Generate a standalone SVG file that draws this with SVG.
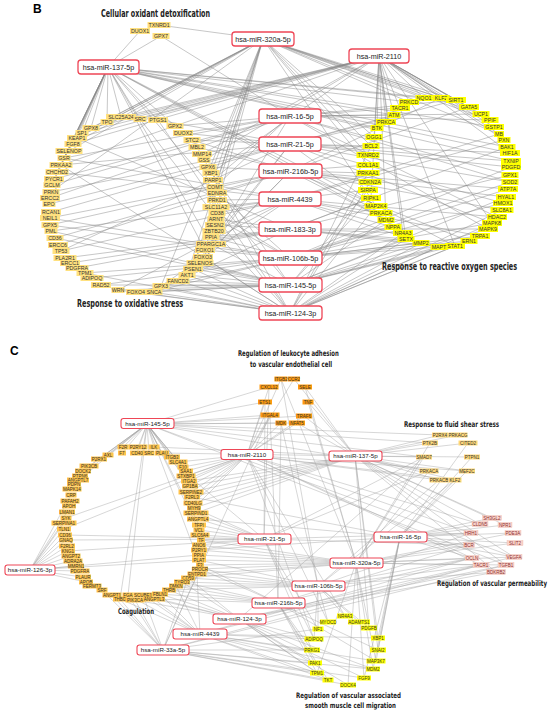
<svg xmlns="http://www.w3.org/2000/svg" width="550" height="714" viewBox="0 0 550 714">
<style>
.e1{stroke:#858585;stroke-width:0.55;fill:none;opacity:0.85}
.e2{stroke:#a0a0a0;stroke-width:0.5;fill:none;opacity:0.85}
.mb rect{fill:#fff;stroke:#EE4656;stroke-width:1.3}
.mb text{font-family:"Liberation Sans",Arial,sans-serif;font-size:7.2px;text-anchor:middle;fill:#222}
.mc rect{fill:#fff;stroke:#EE4656;stroke-width:1.1}
.mc text{font-family:"Liberation Sans",Arial,sans-serif;font-size:6.2px;text-anchor:middle;fill:#222}
.gb text{font-family:"Liberation Sans",Arial,sans-serif;font-size:5.3px;text-anchor:middle;fill:#333}
.gc text{font-family:"Liberation Sans",Arial,sans-serif;font-size:4.5px;text-anchor:middle;fill:#333}
.bl rect{fill:#FFE17F}
.by rect{fill:#FFFF00}
.co rect{fill:#FFC54D}
.lk rect{fill:#FF9B0F}
.sh rect{fill:#FFD97A}
.pm rect{fill:#FAD3CB;stroke:#E8A898;stroke-width:0.3}
.pm text{fill:#8B3030}
.sm rect{fill:#FFFF00}
.t{font-family:"DejaVu Sans Condensed","DejaVu Sans",sans-serif;font-weight:bold;fill:#222}
.p{font-family:"Liberation Sans",Arial,sans-serif;font-weight:bold;font-size:12px;fill:#000}
</style>
<rect width="550" height="714" fill="#fff"/>
<g id="connectors">
<path class="e1" id="eb-137" d="M108 67L107 122M108 67L91 128M108 67L82 133M108 67L77 138M108 67L73 144M108 67L69 151M108 67L64 158M108 67L61 165M108 67L57 172M108 67L54 179M108 67L52 185M108 67L140 119M108 67L158 120M108 67L175 126M108 67L121 117M108 67L140 31M108 67L161 36M108 67L217 193M108 67L205 250M108 67L211 244M108 67L424 98M108 67L409 102M108 67L377 128M108 67L510 153M108 67L507 147M108 67L456 100M108 67L394 115M108 67L386 220M108 67L381 213M108 67L455 246M108 67L494 127M108 67L511 161"/>
<path class="e1" id="eb-320" d="M263 39L159 25M263 39L91 128M263 39L82 133M263 39L77 138M263 39L73 144M263 39L69 151M263 39L107 122M263 39L213 180M263 39L215 187M263 39L211 173M263 39L409 102M263 39L424 98M263 39L441 98M263 39L469 107M263 39L481 114M263 39L490 120M263 39L371 146M263 39L374 137M263 39L368 155M263 39L368 165M263 39L376 206M263 39L203 257M263 39L187 275M263 39L193 269M263 39L161 286M263 39L456 100M263 39L499 134M263 39L51 192"/>
<path class="e1" id="eb-2110" d="M379 56L121 117M379 56L140 119M379 56L107 122M379 56L91 128M379 56L82 133M379 56L77 138M379 56L61 165M379 56L202 154M379 56L211 173M379 56L424 98M379 56L441 98M379 56L456 100M379 56L469 107M379 56L481 114M379 56L490 120M379 56L494 127M379 56L510 153M379 56L499 134M379 56L504 140M379 56L394 115M379 56L386 122M379 56L377 128M379 56L374 137M379 56L406 239M379 56L403 233M379 56L386 220M379 56L371 198M379 56L455 246M379 56L492 223M379 56L204 160M379 56L73 144"/>
<path class="e1" id="eb-16" d="M161 36L290 116M290 116L64 158M290 116L54 179M290 116L52 185M290 116L215 187M290 116L213 180M290 116L50 198M290 116L200 263M290 116L394 115M290 116L400 108M290 116L481 114M290 116L490 120M290 116L510 182M290 116L510 175M290 116L497 217M290 116L456 100M290 116L488 229M290 116L183 133M290 116L175 126"/>
<path class="e1" id="eb-21" d="M290 144L51 192M290 144L49 204M290 144L51 212M290 144L61 165M290 144L158 120M290 144L183 133M290 144L203 257M290 144L205 250M290 144L61 251M290 144L371 146M290 144L386 122M290 144L394 115M290 144L456 100M290 144L510 153M290 144L510 182M290 144L503 203M290 144L492 223M290 144L511 161M290 144L511 167M290 144L376 206M290 144L192 140"/>
<path class="e1" id="eb-216" d="M290 171L50 218M290 171L50 225M290 171L55 238M290 171L58 245M290 171L193 269M290 171L187 275M290 171L192 140M290 171L197 147M290 171L368 165M290 171L370 182M290 171L386 220M290 171L469 241M290 171L502 210M290 171L506 197M290 171L508 189M290 171L469 107M290 171L441 98M290 171L368 173M290 171L208 167"/>
<path class="e1" id="eb-4439" d="M290 199L51 231M290 199L61 251M290 199L161 286M290 199L118 290M290 199L214 231M290 199L57 172M290 199L64 158M290 199L368 190M290 199L381 213M290 199L393 227M290 199L421 243M290 199L480 236M290 199L497 217M290 199L499 134M290 199L504 140M290 199L216 207M290 199L217 213M290 199L217 200"/>
<path class="e1" id="eb-183" d="M290 229L70 263M290 229L65 258M290 229L178 281M290 229L77 268M290 229L215 225M290 229L77 138M290 229L403 233M290 229L406 239M290 229L439 247M290 229L455 246M290 229L488 229M290 229L510 175M290 229L507 147M290 229L216 219M290 229L211 237M290 229L371 198"/>
<path class="e1" id="eb-106" d="M290 258L85 273M290 258L92 278M290 258L101 285M290 258L152 292M290 258L136 292M290 258L211 237M290 258L216 219M290 258L217 213M290 258L50 218M290 258L50 225M290 258L421 243M290 258L439 247M290 258L469 241M290 258L480 236M290 258L492 223M290 258L503 203M290 258L508 189M290 258L510 182M290 258L511 167M290 258L393 227M290 258L205 250M290 258L217 193"/>
<path class="e1" id="eb-145" d="M290 285L136 292M290 285L152 292M290 285L161 286M290 285L118 290M290 285L101 285M290 285L178 281M290 285L187 275M290 285L193 269M290 285L200 263M290 285L51 231M290 285L55 238M290 285L439 247M290 285L455 246M290 285L469 241M290 285L421 243M290 285L406 239M290 285L386 220M290 285L371 198M290 285L368 190M290 285L506 197M290 285L488 229M290 285L211 244M290 285L217 200M290 285L208 167"/>
<path class="e1" id="eb-124" d="M290 313L152 292M290 313L136 292M290 313L161 286M290 313L178 281M290 313L187 275M290 313L193 269M290 313L118 290M290 313L85 273M290 313L439 247M290 313L455 246M290 313L421 243M290 313L406 239M290 313L403 233M290 313L480 236M290 313L492 223M290 313L376 206M290 313L370 182M290 313L368 173M290 313L371 146M290 313L140 119M290 313L158 120M290 313L197 147M290 313L203 257M290 313L502 210M290 313L214 231M290 313L61 165"/>
<path class="e2" id="ec-145" d="M147 424L123 447M147 424L138 447M147 424L154 447M147 424L108 455M147 424L122 453M147 424L137 453M147 424L149 453M147 424L162 453M147 424L172 457M147 424L99 459M147 424L89 466M147 424L83 471M147 424L80 476M147 424L178 462M147 424L183 467M147 424L186 471M147 424L199 525M147 424L199 530M147 424L200 565M147 424L120 599M147 424L128 595M147 424L74 484M147 424L269 387M147 424L265 402M147 424L270 415M147 424L281 423M147 424L440 435M147 424L430 443M147 424L424 457M147 424L429 471M147 424L514 557M147 424L506 565M147 424L297 423M147 424L304 416M147 424L189 481M147 424L190 486"/>
<path class="e2" id="ec-2110" d="M247 455L178 462M247 455L183 467M247 455L186 471M247 455L186 476M247 455L189 481M247 455L190 486M247 455L191 492M247 455L192 497M247 455L193 503M247 455L194 508M247 455L64 529M247 455L66 518M247 455L281 423M247 455L297 423M247 455L270 415M247 455L304 416M247 455L281 379M247 455L294 379M247 455L439 480M247 455L455 480M247 455L467 471M247 455L472 558M247 455L481 565M247 455L480 524M247 455L471 533M247 455L328 622M247 455L345 616M247 455L314 639M247 455L265 402M247 455L269 387"/>
<path class="e2" id="ec-137" d="M355 456L440 435M355 456L430 443M355 456L424 457M355 456L429 471M355 456L439 480M355 456L455 480M355 456L467 471M355 456L472 457M355 456L468 443M355 456L458 435M355 456L492 518M355 456L505 525M355 456L480 524M355 456L514 557M355 456L506 565M355 456L496 572M355 456L305 387M355 456L308 402M355 456L304 416M355 456L297 423M355 456L294 379M355 456L191 492M355 456L190 486M355 456L189 481M355 456L193 503M355 456L192 497M355 456L194 508M355 456L196 513M355 456L378 638M355 456L378 650M355 456L369 628M355 456L162 453M355 456L154 447"/>
<path class="e2" id="ec-21" d="M264 539L198 519M264 539L199 525M264 539L199 530M264 539L200 535M264 539L201 540M264 539L199 545M264 539L199 550M264 539L194 508M264 539L196 513M264 539L65 535M264 539L66 540M264 539L429 471M264 539L424 457M264 539L471 533M264 539L469 545M264 539L269 387M264 539L265 402M264 539L318 629M264 539L314 639M264 539L312 650M264 539L68 551M264 539L154 447"/>
<path class="e2" id="ec-16" d="M400 537L492 518M400 537L480 524M400 537L505 525M400 537L471 533M400 537L513 533M400 537L515 543M400 537L469 545M400 537L472 558M400 537L514 557M400 537L467 471M400 537L472 457M400 537L455 480M400 537L468 443M400 537L192 497M400 537L199 550M400 537L376 661M400 537L373 669M400 537L378 638M400 537L378 650M400 537L364 678M400 537L198 519"/>
<path class="e2" id="ec-126" d="M30 570L64 523M30 570L64 529M30 570L65 535M30 570L66 540M30 570L67 546M30 570L68 551M30 570L71 556M30 570L73 561M30 570L76 566M30 570L80 571M30 570L83 577M30 570L86 582M30 570L66 518M30 570L67 512M30 570L199 555M30 570L199 560M30 570L71 495"/>
<path class="e2" id="ec-320" d="M356 563L199 560M356 563L200 565M356 563L200 569M356 563L197 574M356 563L188 578M356 563L199 550M356 563L199 555M356 563L199 545M356 563L201 540M356 563L469 545M356 563L472 558M356 563L481 565M356 563L506 565M356 563L514 557M356 563L513 533M356 563L515 543M356 563L429 471M356 563L430 443M356 563L424 457M356 563L376 661M356 563L373 669M356 563L348 685M356 563L364 678M356 563L317 673M356 563L281 379M356 563L308 402M356 563L305 387"/>
<path class="e2" id="ec-106" d="M318 586L199 560M318 586L182 582M318 586L176 586M318 586L169 590M318 586L188 578M318 586L197 574M318 586L200 569M318 586L472 558M318 586L481 565M318 586L496 572M318 586L471 533M318 586L359 622M318 586L369 628M318 586L345 616M318 586L328 622M318 586L314 639M318 586L318 629M318 586L455 480M318 586L439 480M318 586L281 379M318 586L281 423"/>
<path class="e2" id="ec-216" d="M278 603L182 582M278 603L169 590M278 603L176 586M278 603L160 594M278 603L154 599M278 603L200 569M278 603L200 565M278 603L312 650M278 603L315 663M278 603L317 673M278 603L328 680M278 603L378 650M278 603L376 661M278 603L469 545M278 603L472 558M278 603L281 423M278 603L270 415"/>
<path class="e2" id="ec-124" d="M239 619L160 594M239 619L154 599M239 619L143 595M239 619L135 600M239 619L169 590M239 619L182 582M239 619L188 578M239 619L315 663M239 619L317 673M239 619L328 680M239 619L348 685M239 619L373 669M239 619L364 678M239 619L314 639M239 619L514 557M239 619L506 565M239 619L424 457M239 619L496 572"/>
<path class="e2" id="ec-4439" d="M200 634L143 595M200 634L160 594M200 634L120 599M200 634L128 595M200 634L154 599M200 634L176 586M200 634L197 574M200 634L314 639M200 634L312 650M200 634L315 663M200 634L328 680M200 634L317 673M200 634L376 661M200 634L373 669M200 634L378 638M200 634L472 558M200 634L481 565"/>
<path class="e2" id="ec-33" d="M163 650L128 595M163 650L120 599M163 650L135 600M163 650L143 595M163 650L112 595M163 650L102 590M163 650L188 578M163 650L200 569M163 650L315 663M163 650L317 673M163 650L328 680M163 650L348 685M163 650L364 678M163 650L373 669M163 650L312 650M163 650L318 629M163 650L481 565M163 650L506 565M163 650L270 415"/>
</g>
<g id="panel-b-genes">
<g id="b-SLC25A24" class="gb bl"><rect x="106" y="114" width="30" height="6"/><text x="121" y="118.9">SLC25A24</text></g>
<g id="b-SRC" class="gb bl"><rect x="133.5" y="116" width="13" height="6"/><text x="140" y="120.9">SRC</text></g>
<g id="b-PTGS1" class="gb bl"><rect x="148" y="117" width="20" height="6"/><text x="158" y="121.9">PTGS1</text></g>
<g id="b-GPX2" class="gb bl"><rect x="166.5" y="123" width="17" height="6"/><text x="175" y="127.9">GPX2</text></g>
<g id="b-DUOX2" class="gb bl"><rect x="173" y="130" width="20" height="6"/><text x="183" y="134.9">DUOX2</text></g>
<g id="b-STC2" class="gb bl"><rect x="183.5" y="137" width="17" height="6"/><text x="192" y="141.9">STC2</text></g>
<g id="b-MBL2" class="gb bl"><rect x="188.5" y="144" width="17" height="6"/><text x="197" y="148.9">MBL2</text></g>
<g id="b-MMP14" class="gb bl"><rect x="192" y="151" width="20" height="6"/><text x="202" y="155.9">MMP14</text></g>
<g id="b-GSS" class="gb bl"><rect x="197.5" y="157" width="13" height="6"/><text x="204" y="161.9">GSS</text></g>
<g id="b-GPX6" class="gb bl"><rect x="199.5" y="164" width="17" height="6"/><text x="208" y="168.9">GPX6</text></g>
<g id="b-XBP1" class="gb bl"><rect x="202.5" y="170" width="17" height="6"/><text x="211" y="174.9">XBP1</text></g>
<g id="b-PARP1" class="gb bl"><rect x="203" y="177" width="20" height="6"/><text x="213" y="181.9">PARP1</text></g>
<g id="b-COMT" class="gb bl"><rect x="206.5" y="184" width="17" height="6"/><text x="215" y="188.9">COMT</text></g>
<g id="b-EDNRA" class="gb bl"><rect x="207" y="190" width="20" height="6"/><text x="217" y="194.9">EDNRA</text></g>
<g id="b-PRKD1" class="gb bl"><rect x="207" y="197" width="20" height="6"/><text x="217" y="201.9">PRKD1</text></g>
<g id="b-SLC11A2" class="gb bl"><rect x="202.5" y="204" width="27" height="6"/><text x="216" y="208.9">SLC11A2</text></g>
<g id="b-CD38" class="gb bl"><rect x="208.5" y="210" width="17" height="6"/><text x="217" y="214.9">CD38</text></g>
<g id="b-ARNT" class="gb bl"><rect x="207.5" y="216" width="17" height="6"/><text x="216" y="220.9">ARNT</text></g>
<g id="b-SESN2" class="gb bl"><rect x="205" y="222" width="20" height="6"/><text x="215" y="226.9">SESN2</text></g>
<g id="b-ZBTB20" class="gb bl"><rect x="202.5" y="228" width="23" height="6"/><text x="214" y="232.9">ZBTB20</text></g>
<g id="b-PPIA" class="gb bl"><rect x="202.5" y="234" width="17" height="6"/><text x="211" y="238.9">PPIA</text></g>
<g id="b-PPARGC1A" class="gb bl"><rect x="196" y="241" width="30" height="6"/><text x="211" y="245.9">PPARGC1A</text></g>
<g id="b-FOXO1" class="gb bl"><rect x="195" y="247" width="20" height="6"/><text x="205" y="251.9">FOXO1</text></g>
<g id="b-FOXO3" class="gb bl"><rect x="193" y="254" width="20" height="6"/><text x="203" y="258.9">FOXO3</text></g>
<g id="b-SELENOS" class="gb bl"><rect x="186.5" y="260" width="27" height="6"/><text x="200" y="264.9">SELENOS</text></g>
<g id="b-PSEN1" class="gb bl"><rect x="183" y="266" width="20" height="6"/><text x="193" y="270.9">PSEN1</text></g>
<g id="b-AKT1" class="gb bl"><rect x="178.5" y="272" width="17" height="6"/><text x="187" y="276.9">AKT1</text></g>
<g id="b-FANCD2" class="gb bl"><rect x="166.5" y="278" width="23" height="6"/><text x="178" y="282.9">FANCD2</text></g>
<g id="b-GPX3" class="gb bl"><rect x="152.5" y="283" width="17" height="6"/><text x="161" y="287.9">GPX3</text></g>
<g id="b-SNCA" class="gb bl"><rect x="145.5" y="289" width="17" height="6"/><text x="154" y="293.9">SNCA</text></g>
<g id="b-FOXO4" class="gb bl"><rect x="126" y="289" width="20" height="6"/><text x="136" y="293.9">FOXO4</text></g>
<g id="b-WRN" class="gb bl"><rect x="111.5" y="287" width="13" height="6"/><text x="118" y="291.9">WRN</text></g>
<g id="b-RAD52" class="gb bl"><rect x="91" y="282" width="20" height="6"/><text x="101" y="286.9">RAD52</text></g>
<g id="b-ADIPOQ" class="gb bl"><rect x="80.5" y="275" width="23" height="6"/><text x="92" y="279.9">ADIPOQ</text></g>
<g id="b-TPM1" class="gb bl"><rect x="76.5" y="270" width="17" height="6"/><text x="85" y="274.9">TPM1</text></g>
<g id="b-PDGFRA" class="gb bl"><rect x="65.5" y="265" width="23" height="6"/><text x="77" y="269.9">PDGFRA</text></g>
<g id="b-ERCC1" class="gb bl"><rect x="60" y="260" width="20" height="6"/><text x="70" y="264.9">ERCC1</text></g>
<g id="b-PLA2R1" class="gb bl"><rect x="53.5" y="255" width="23" height="6"/><text x="65" y="259.9">PLA2R1</text></g>
<g id="b-TP53" class="gb bl"><rect x="52.5" y="248" width="17" height="6"/><text x="61" y="252.9">TP53</text></g>
<g id="b-ERCC6" class="gb bl"><rect x="48" y="242" width="20" height="6"/><text x="58" y="246.9">ERCC6</text></g>
<g id="b-CD36" class="gb bl"><rect x="46.5" y="235" width="17" height="6"/><text x="55" y="239.9">CD36</text></g>
<g id="b-PML" class="gb bl"><rect x="44.5" y="228" width="13" height="6"/><text x="51" y="232.9">PML</text></g>
<g id="b-GPX5" class="gb bl"><rect x="41.5" y="222" width="17" height="6"/><text x="50" y="226.9">GPX5</text></g>
<g id="b-NEIL1" class="gb bl"><rect x="40" y="215" width="20" height="6"/><text x="50" y="219.9">NEIL1</text></g>
<g id="b-RCAN1" class="gb bl"><rect x="41" y="209" width="20" height="6"/><text x="51" y="213.9">RCAN1</text></g>
<g id="b-EPO" class="gb bl"><rect x="42.5" y="201" width="13" height="6"/><text x="49" y="205.9">EPO</text></g>
<g id="b-ERCC2" class="gb bl"><rect x="40" y="195" width="20" height="6"/><text x="50" y="199.9">ERCC2</text></g>
<g id="b-PRKN" class="gb bl"><rect x="42.5" y="189" width="17" height="6"/><text x="51" y="193.9">PRKN</text></g>
<g id="b-GCLM" class="gb bl"><rect x="43.5" y="182" width="17" height="6"/><text x="52" y="186.9">GCLM</text></g>
<g id="b-PYCR1" class="gb bl"><rect x="44" y="176" width="20" height="6"/><text x="54" y="180.9">PYCR1</text></g>
<g id="b-CHCHD2" class="gb bl"><rect x="45.5" y="169" width="23" height="6"/><text x="57" y="173.9">CHCHD2</text></g>
<g id="b-PRKAA2" class="gb bl"><rect x="49.5" y="162" width="23" height="6"/><text x="61" y="166.9">PRKAA2</text></g>
<g id="b-GSR" class="gb bl"><rect x="57.5" y="155" width="13" height="6"/><text x="64" y="159.9">GSR</text></g>
<g id="b-SELENOP" class="gb bl"><rect x="55.5" y="148" width="27" height="6"/><text x="69" y="152.9">SELENOP</text></g>
<g id="b-FGF8" class="gb bl"><rect x="64.5" y="141" width="17" height="6"/><text x="73" y="145.9">FGF8</text></g>
<g id="b-KEAP1" class="gb bl"><rect x="67" y="135" width="20" height="6"/><text x="77" y="139.9">KEAP1</text></g>
<g id="b-SP1" class="gb bl"><rect x="75.5" y="130" width="13" height="6"/><text x="82" y="134.9">SP1</text></g>
<g id="b-GPX8" class="gb bl"><rect x="82.5" y="125" width="17" height="6"/><text x="91" y="129.9">GPX8</text></g>
<g id="b-TPO" class="gb bl"><rect x="100.5" y="119" width="13" height="6"/><text x="107" y="123.9">TPO</text></g>
<g id="b-TXNRD1" class="gb bl"><rect x="147.5" y="22" width="23" height="6"/><text x="159" y="26.9">TXNRD1</text></g>
<g id="b-DUOX1" class="gb bl"><rect x="130" y="28" width="20" height="6"/><text x="140" y="32.9">DUOX1</text></g>
<g id="b-GPX7" class="gb bl"><rect x="152.5" y="33" width="17" height="6"/><text x="161" y="37.9">GPX7</text></g>
<g id="b-NQO1" class="gb by"><rect x="415.5" y="95" width="17" height="6"/><text x="424" y="99.9">NQO1</text></g>
<g id="b-KLF2" class="gb by"><rect x="432.5" y="95" width="17" height="6"/><text x="441" y="99.9">KLF2</text></g>
<g id="b-SIRT1" class="gb by"><rect x="446" y="97" width="20" height="6"/><text x="456" y="101.9">SIRT1</text></g>
<g id="b-GATA5" class="gb by"><rect x="459" y="104" width="20" height="6"/><text x="469" y="108.9">GATA5</text></g>
<g id="b-UCP1" class="gb by"><rect x="472.5" y="111" width="17" height="6"/><text x="481" y="115.9">UCP1</text></g>
<g id="b-PPIF" class="gb by"><rect x="481.5" y="117" width="17" height="6"/><text x="490" y="121.9">PPIF</text></g>
<g id="b-GSTP1" class="gb by"><rect x="484" y="124" width="20" height="6"/><text x="494" y="128.9">GSTP1</text></g>
<g id="b-MB" class="gb by"><rect x="494" y="131" width="10" height="6"/><text x="499" y="135.9">MB</text></g>
<g id="b-PXN" class="gb by"><rect x="497.5" y="137" width="13" height="6"/><text x="504" y="141.9">PXN</text></g>
<g id="b-BAK1" class="gb by"><rect x="498.5" y="144" width="17" height="6"/><text x="507" y="148.9">BAK1</text></g>
<g id="b-HIF1A" class="gb by"><rect x="500" y="150" width="20" height="6"/><text x="510" y="154.9">HIF1A</text></g>
<g id="b-TXNIP" class="gb by"><rect x="501" y="158" width="20" height="6"/><text x="511" y="162.9">TXNIP</text></g>
<g id="b-PDGFD" class="gb by"><rect x="501" y="164" width="20" height="6"/><text x="511" y="168.9">PDGFD</text></g>
<g id="b-GPX1" class="gb by"><rect x="501.5" y="172" width="17" height="6"/><text x="510" y="176.9">GPX1</text></g>
<g id="b-SOD2" class="gb by"><rect x="501.5" y="179" width="17" height="6"/><text x="510" y="183.9">SOD2</text></g>
<g id="b-ATP7A" class="gb by"><rect x="498" y="186" width="20" height="6"/><text x="508" y="190.9">ATP7A</text></g>
<g id="b-HYAL1" class="gb by"><rect x="496" y="194" width="20" height="6"/><text x="506" y="198.9">HYAL1</text></g>
<g id="b-HMOX1" class="gb by"><rect x="493" y="200" width="20" height="6"/><text x="503" y="204.9">HMOX1</text></g>
<g id="b-SLC8A1" class="gb by"><rect x="490.5" y="207" width="23" height="6"/><text x="502" y="211.9">SLC8A1</text></g>
<g id="b-HDAC2" class="gb by"><rect x="487" y="214" width="20" height="6"/><text x="497" y="218.9">HDAC2</text></g>
<g id="b-MAPK8" class="gb by"><rect x="482" y="220" width="20" height="6"/><text x="492" y="224.9">MAPK8</text></g>
<g id="b-MAPK9" class="gb by"><rect x="478" y="226" width="20" height="6"/><text x="488" y="230.9">MAPK9</text></g>
<g id="b-TRPA1" class="gb by"><rect x="470" y="233" width="20" height="6"/><text x="480" y="237.9">TRPA1</text></g>
<g id="b-ERN1" class="gb by"><rect x="460.5" y="238" width="17" height="6"/><text x="469" y="242.9">ERN1</text></g>
<g id="b-STAT1" class="gb by"><rect x="445" y="243" width="20" height="6"/><text x="455" y="247.9">STAT1</text></g>
<g id="b-MAPT" class="gb by"><rect x="430.5" y="244" width="17" height="6"/><text x="439" y="248.9">MAPT</text></g>
<g id="b-MMP2" class="gb by"><rect x="412.5" y="240" width="17" height="6"/><text x="421" y="244.9">MMP2</text></g>
<g id="b-SETX" class="gb by"><rect x="397.5" y="236" width="17" height="6"/><text x="406" y="240.9">SETX</text></g>
<g id="b-NR4A3" class="gb by"><rect x="393" y="230" width="20" height="6"/><text x="403" y="234.9">NR4A3</text></g>
<g id="b-NPPA" class="gb by"><rect x="384.5" y="224" width="17" height="6"/><text x="393" y="228.9">NPPA</text></g>
<g id="b-MDM2" class="gb by"><rect x="377.5" y="217" width="17" height="6"/><text x="386" y="221.9">MDM2</text></g>
<g id="b-PRKACA" class="gb by"><rect x="369.5" y="210" width="23" height="6"/><text x="381" y="214.9">PRKACA</text></g>
<g id="b-MAP2K4" class="gb by"><rect x="364.5" y="203" width="23" height="6"/><text x="376" y="207.9">MAP2K4</text></g>
<g id="b-RIPK1" class="gb by"><rect x="361" y="195" width="20" height="6"/><text x="371" y="199.9">RIPK1</text></g>
<g id="b-SIRPA" class="gb by"><rect x="358" y="187" width="20" height="6"/><text x="368" y="191.9">SIRPA</text></g>
<g id="b-CDKN2A" class="gb by"><rect x="358.5" y="179" width="23" height="6"/><text x="370" y="183.9">CDKN2A</text></g>
<g id="b-PRKAA1" class="gb by"><rect x="356.5" y="170" width="23" height="6"/><text x="368" y="174.9">PRKAA1</text></g>
<g id="b-COL1A1" class="gb by"><rect x="356.5" y="162" width="23" height="6"/><text x="368" y="166.9">COL1A1</text></g>
<g id="b-TXNRD2" class="gb by"><rect x="356.5" y="152" width="23" height="6"/><text x="368" y="156.9">TXNRD2</text></g>
<g id="b-BCL2" class="gb by"><rect x="362.5" y="143" width="17" height="6"/><text x="371" y="147.9">BCL2</text></g>
<g id="b-OGG1" class="gb by"><rect x="365.5" y="134" width="17" height="6"/><text x="374" y="138.9">OGG1</text></g>
<g id="b-BTK" class="gb by"><rect x="370.5" y="125" width="13" height="6"/><text x="377" y="129.9">BTK</text></g>
<g id="b-PRKCA" class="gb by"><rect x="376" y="119" width="20" height="6"/><text x="386" y="123.9">PRKCA</text></g>
<g id="b-ATM" class="gb by"><rect x="387.5" y="112" width="13" height="6"/><text x="394" y="116.9">ATM</text></g>
<g id="b-TACR1" class="gb by"><rect x="390" y="105" width="20" height="6"/><text x="400" y="109.9">TACR1</text></g>
<g id="b-PRKCD" class="gb by"><rect x="399" y="99" width="20" height="6"/><text x="409" y="103.9">PRKCD</text></g>
</g>
<g id="panel-b-mirnas">
<g id="b-miR-320a-5p" class="mb"><rect x="232" y="32" width="62" height="14" rx="3"/><text x="263" y="41.6">hsa-miR-320a-5p</text></g>
<g id="b-miR-2110" class="mb"><rect x="349" y="49" width="60" height="14" rx="3"/><text x="379" y="58.6">hsa-miR-2110</text></g>
<g id="b-miR-137-5p" class="mb"><rect x="78" y="60" width="61" height="14" rx="3"/><text x="108.5" y="69.6">hsa-miR-137-5p</text></g>
<g id="b-miR-16-5p" class="mb"><rect x="259" y="109" width="62" height="14" rx="3"/><text x="290" y="118.6">hsa-miR-16-5p</text></g>
<g id="b-miR-21-5p" class="mb"><rect x="259" y="137" width="62" height="14" rx="3"/><text x="290" y="146.6">hsa-miR-21-5p</text></g>
<g id="b-miR-216b-5p" class="mb"><rect x="259" y="164" width="63" height="14" rx="3"/><text x="290.5" y="173.6">hsa-miR-216b-5p</text></g>
<g id="b-miR-4439" class="mb"><rect x="259" y="192" width="62" height="14" rx="3"/><text x="290" y="201.6">hsa-miR-4439</text></g>
<g id="b-miR-183-3p" class="mb"><rect x="259" y="222" width="62" height="14" rx="3"/><text x="290" y="231.6">hsa-miR-183-3p</text></g>
<g id="b-miR-106b-5p" class="mb"><rect x="259" y="251" width="63" height="14" rx="3"/><text x="290.5" y="260.6">hsa-miR-106b-5p</text></g>
<g id="b-miR-145-5p" class="mb"><rect x="259" y="278" width="63" height="14" rx="3"/><text x="290.5" y="287.6">hsa-miR-145-5p</text></g>
<g id="b-miR-124-3p" class="mb"><rect x="259" y="306" width="63" height="14" rx="3"/><text x="290.5" y="315.6">hsa-miR-124-3p</text></g>
</g>
<g id="panel-c-genes">
<g id="c-F2R" class="gc co"><rect x="117.5" y="444.5" width="11" height="5"/><text x="123" y="448.6">F2R</text></g>
<g id="c-P2RY12" class="gc co"><rect x="128.5" y="444.5" width="19" height="5"/><text x="138" y="448.6">P2RY12</text></g>
<g id="c-ILK" class="gc co"><rect x="148.5" y="444.5" width="11" height="5"/><text x="154" y="448.6">ILK</text></g>
<g id="c-AXL" class="gc co"><rect x="102.5" y="452.5" width="11" height="5"/><text x="108" y="456.6">AXL</text></g>
<g id="c-F7" class="gc co"><rect x="118" y="450.5" width="8" height="5"/><text x="122" y="454.6">F7</text></g>
<g id="c-CD40" class="gc co"><rect x="130" y="450.5" width="14" height="5"/><text x="137" y="454.6">CD40</text></g>
<g id="c-SRC" class="gc co"><rect x="143.5" y="450.5" width="11" height="5"/><text x="149" y="454.6">SRC</text></g>
<g id="c-PLAU" class="gc co"><rect x="155" y="450.5" width="14" height="5"/><text x="162" y="454.6">PLAU</text></g>
<g id="c-ITGB3" class="gc co"><rect x="164" y="454.5" width="16" height="5"/><text x="172" y="458.6">ITGB3</text></g>
<g id="c-P2RX1" class="gc co"><rect x="91" y="456.5" width="16" height="5"/><text x="99" y="460.6">P2RX1</text></g>
<g id="c-SLC4A1" class="gc co"><rect x="168.5" y="459.5" width="19" height="5"/><text x="178" y="463.6">SLC4A1</text></g>
<g id="c-PIK3CB" class="gc co"><rect x="79.5" y="463.5" width="19" height="5"/><text x="89" y="467.6">PIK3CB</text></g>
<g id="c-F10" class="gc co"><rect x="177.5" y="464.5" width="11" height="5"/><text x="183" y="468.6">F10</text></g>
<g id="c-DOCK2" class="gc co"><rect x="75" y="468.5" width="16" height="5"/><text x="83" y="472.6">DOCK2</text></g>
<g id="c-SAA1" class="gc co"><rect x="179" y="468.5" width="14" height="5"/><text x="186" y="472.6">SAA1</text></g>
<g id="c-PTPN6" class="gc co"><rect x="72" y="473.5" width="16" height="5"/><text x="80" y="477.6">PTPN6</text></g>
<g id="c-STXBP1" class="gc co"><rect x="176.5" y="473.5" width="19" height="5"/><text x="186" y="477.6">STXBP1</text></g>
<g id="c-ANGPTL7" class="gc co"><rect x="67" y="477.5" width="22" height="5"/><text x="78" y="481.6">ANGPTL7</text></g>
<g id="c-ITGA2" class="gc co"><rect x="181" y="478.5" width="16" height="5"/><text x="189" y="482.6">ITGA2</text></g>
<g id="c-PDPN" class="gc co"><rect x="67" y="481.5" width="14" height="5"/><text x="74" y="485.6">PDPN</text></g>
<g id="c-GP1BA" class="gc co"><rect x="182" y="483.5" width="16" height="5"/><text x="190" y="487.6">GP1BA</text></g>
<g id="c-MAPK14" class="gc co"><rect x="62.5" y="486.5" width="19" height="5"/><text x="72" y="490.6">MAPK14</text></g>
<g id="c-SERPINE2" class="gc co"><rect x="178.5" y="489.5" width="25" height="5"/><text x="191" y="493.6">SERPINE2</text></g>
<g id="c-CRP" class="gc co"><rect x="65.5" y="492.5" width="11" height="5"/><text x="71" y="496.6">CRP</text></g>
<g id="c-F2RL3" class="gc co"><rect x="184" y="494.5" width="16" height="5"/><text x="192" y="498.6">F2RL3</text></g>
<g id="c-PAFAH2" class="gc co"><rect x="60.5" y="498.5" width="19" height="5"/><text x="70" y="502.6">PAFAH2</text></g>
<g id="c-CD40LG" class="gc co"><rect x="183.5" y="500.5" width="19" height="5"/><text x="193" y="504.6">CD40LG</text></g>
<g id="c-APOH" class="gc co"><rect x="62" y="503.5" width="14" height="5"/><text x="69" y="507.6">APOH</text></g>
<g id="c-MYH9" class="gc co"><rect x="187" y="505.5" width="14" height="5"/><text x="194" y="509.6">MYH9</text></g>
<g id="c-LMAN1" class="gc co"><rect x="59" y="509.5" width="16" height="5"/><text x="67" y="513.6">LMAN1</text></g>
<g id="c-SERPIND1" class="gc co"><rect x="183.5" y="510.5" width="25" height="5"/><text x="196" y="514.6">SERPIND1</text></g>
<g id="c-SYK" class="gc co"><rect x="60.5" y="515.5" width="11" height="5"/><text x="66" y="519.6">SYK</text></g>
<g id="c-ANGPTL4" class="gc co"><rect x="187" y="516.5" width="22" height="5"/><text x="198" y="520.6">ANGPTL4</text></g>
<g id="c-SERPINA1" class="gc co"><rect x="51.5" y="520.5" width="25" height="5"/><text x="64" y="524.6">SERPINA1</text></g>
<g id="c-TFPI" class="gc co"><rect x="192" y="522.5" width="14" height="5"/><text x="199" y="526.6">TFPI</text></g>
<g id="c-TLN1" class="gc co"><rect x="57" y="526.5" width="14" height="5"/><text x="64" y="530.6">TLN1</text></g>
<g id="c-VCL" class="gc co"><rect x="193.5" y="527.5" width="11" height="5"/><text x="199" y="531.6">VCL</text></g>
<g id="c-CD36" class="gc co"><rect x="58" y="532.5" width="14" height="5"/><text x="65" y="536.6">CD36</text></g>
<g id="c-SLC6A4" class="gc co"><rect x="190.5" y="532.5" width="19" height="5"/><text x="200" y="536.6">SLC6A4</text></g>
<g id="c-GNAQ" class="gc co"><rect x="59" y="537.5" width="14" height="5"/><text x="66" y="541.6">GNAQ</text></g>
<g id="c-TF" class="gc co"><rect x="197" y="537.5" width="8" height="5"/><text x="201" y="541.6">TF</text></g>
<g id="c-F2RL2" class="gc co"><rect x="59" y="543.5" width="16" height="5"/><text x="67" y="547.6">F2RL2</text></g>
<g id="c-ANO6" class="gc co"><rect x="192" y="542.5" width="14" height="5"/><text x="199" y="546.6">ANO6</text></g>
<g id="c-KNG1" class="gc co"><rect x="61" y="548.5" width="14" height="5"/><text x="68" y="552.6">KNG1</text></g>
<g id="c-P2RY1" class="gc co"><rect x="191" y="547.5" width="16" height="5"/><text x="199" y="551.6">P2RY1</text></g>
<g id="c-ANGPT2" class="gc co"><rect x="61.5" y="553.5" width="19" height="5"/><text x="71" y="557.6">ANGPT2</text></g>
<g id="c-PPIA" class="gc co"><rect x="192" y="552.5" width="14" height="5"/><text x="199" y="556.6">PPIA</text></g>
<g id="c-ADRA2A" class="gc co"><rect x="63.5" y="558.5" width="19" height="5"/><text x="73" y="562.6">ADRA2A</text></g>
<g id="c-PLAT" class="gc co"><rect x="192" y="557.5" width="14" height="5"/><text x="199" y="561.6">PLAT</text></g>
<g id="c-MMRN1" class="gc co"><rect x="68" y="563.5" width="16" height="5"/><text x="76" y="567.6">MMRN1</text></g>
<g id="c-F3" class="gc co"><rect x="196" y="562.5" width="8" height="5"/><text x="200" y="566.6">F3</text></g>
<g id="c-PDGFRA" class="gc co"><rect x="70.5" y="568.5" width="19" height="5"/><text x="80" y="572.6">PDGFRA</text></g>
<g id="c-PROCR" class="gc co"><rect x="192" y="566.5" width="16" height="5"/><text x="200" y="570.6">PROCR</text></g>
<g id="c-ENTPD1" class="gc co"><rect x="187.5" y="571.5" width="19" height="5"/><text x="197" y="575.6">ENTPD1</text></g>
<g id="c-PLAUR" class="gc co"><rect x="75" y="574.5" width="16" height="5"/><text x="83" y="578.6">PLAUR</text></g>
<g id="c-CD59" class="gc co"><rect x="181" y="575.5" width="14" height="5"/><text x="188" y="579.6">CD59</text></g>
<g id="c-APOB" class="gc co"><rect x="79" y="579.5" width="14" height="5"/><text x="86" y="583.6">APOB</text></g>
<g id="c-TYRO3" class="gc co"><rect x="174" y="579.5" width="16" height="5"/><text x="182" y="583.6">TYRO3</text></g>
<g id="c-FERMT3" class="gc co"><rect x="82.5" y="583.5" width="19" height="5"/><text x="92" y="587.6">FERMT3</text></g>
<g id="c-DMKN" class="gc co"><rect x="169" y="583.5" width="14" height="5"/><text x="176" y="587.6">DMKN</text></g>
<g id="c-SRF" class="gc co"><rect x="96.5" y="587.5" width="11" height="5"/><text x="102" y="591.6">SRF</text></g>
<g id="c-THRB" class="gc co"><rect x="162" y="587.5" width="14" height="5"/><text x="169" y="591.6">THRB</text></g>
<g id="c-ANGPT1" class="gc co"><rect x="102.5" y="592.5" width="19" height="5"/><text x="112" y="596.6">ANGPT1</text></g>
<g id="c-FGA" class="gc co"><rect x="122.5" y="592.5" width="11" height="5"/><text x="128" y="596.6">FGA</text></g>
<g id="c-SCUBE1" class="gc co"><rect x="133.5" y="592.5" width="19" height="5"/><text x="143" y="596.6">SCUBE1</text></g>
<g id="c-FBLN1" class="gc co"><rect x="152" y="591.5" width="16" height="5"/><text x="160" y="595.6">FBLN1</text></g>
<g id="c-THBD" class="gc co"><rect x="113" y="596.5" width="14" height="5"/><text x="120" y="600.6">THBD</text></g>
<g id="c-PIK3CA" class="gc co"><rect x="125.5" y="597.5" width="19" height="5"/><text x="135" y="601.6">PIK3CA</text></g>
<g id="c-ANGPTL3" class="gc co"><rect x="143" y="596.5" width="22" height="5"/><text x="154" y="600.6">ANGPTL3</text></g>
<g id="c-ITGB2" class="gc lk"><rect x="274.5" y="376.5" width="13" height="5"/><text x="281" y="380.6">ITGB2</text></g>
<g id="c-CCR2" class="gc lk"><rect x="288" y="376.5" width="12" height="5"/><text x="294" y="380.6">CCR2</text></g>
<g id="c-CXCL12" class="gc lk"><rect x="259.5" y="384.5" width="19" height="5"/><text x="269" y="388.6">CXCL12</text></g>
<g id="c-SELE" class="gc lk"><rect x="298" y="384.5" width="14" height="5"/><text x="305" y="388.6">SELE</text></g>
<g id="c-ETS1" class="gc lk"><rect x="258" y="399.5" width="14" height="5"/><text x="265" y="403.6">ETS1</text></g>
<g id="c-TNF" class="gc lk"><rect x="302.5" y="399.5" width="11" height="5"/><text x="308" y="403.6">TNF</text></g>
<g id="c-ITGAL4" class="gc lk"><rect x="260.5" y="412.5" width="19" height="5"/><text x="270" y="416.6">ITGAL4</text></g>
<g id="c-TRAF6" class="gc lk"><rect x="296" y="413.5" width="16" height="5"/><text x="304" y="417.6">TRAF6</text></g>
<g id="c-MDK" class="gc lk"><rect x="275.5" y="420.5" width="11" height="5"/><text x="281" y="424.6">MDK</text></g>
<g id="c-NFAT5" class="gc lk"><rect x="289" y="420.5" width="16" height="5"/><text x="297" y="424.6">NFAT5</text></g>
<g id="c-P2RX4" class="gc sh"><rect x="432" y="432.5" width="16" height="5"/><text x="440" y="436.6">P2RX4</text></g>
<g id="c-PRKACG" class="gc sh"><rect x="448.5" y="432.5" width="19" height="5"/><text x="458" y="436.6">PRKACG</text></g>
<g id="c-PTK2B" class="gc sh"><rect x="422" y="440.5" width="16" height="5"/><text x="430" y="444.6">PTK2B</text></g>
<g id="c-CITED2" class="gc sh"><rect x="458.5" y="440.5" width="19" height="5"/><text x="468" y="444.6">CITED2</text></g>
<g id="c-SMAD7" class="gc sh"><rect x="416" y="454.5" width="16" height="5"/><text x="424" y="458.6">SMAD7</text></g>
<g id="c-PTPN1" class="gc sh"><rect x="464" y="454.5" width="16" height="5"/><text x="472" y="458.6">PTPN1</text></g>
<g id="c-PRKACA" class="gc sh"><rect x="419.5" y="468.5" width="19" height="5"/><text x="429" y="472.6">PRKACA</text></g>
<g id="c-MEF2C" class="gc sh"><rect x="459" y="468.5" width="16" height="5"/><text x="467" y="472.6">MEF2C</text></g>
<g id="c-PRKACB" class="gc sh"><rect x="429.5" y="477.5" width="19" height="5"/><text x="439" y="481.6">PRKACB</text></g>
<g id="c-KLF2" class="gc sh"><rect x="448.5" y="477.5" width="13" height="5"/><text x="455" y="481.6">KLF2</text></g>
<g id="c-SH3GL2" class="gc pm"><rect x="482.5" y="515.5" width="19" height="5"/><text x="492" y="519.6">SH3GL2</text></g>
<g id="c-CLDN5" class="gc pm"><rect x="472" y="521.5" width="16" height="5"/><text x="480" y="525.6">CLDN5</text></g>
<g id="c-NPR1" class="gc pm"><rect x="498" y="522.5" width="14" height="5"/><text x="505" y="526.6">NPR1</text></g>
<g id="c-HRH1" class="gc pm"><rect x="464" y="530.5" width="14" height="5"/><text x="471" y="534.6">HRH1</text></g>
<g id="c-PDE3A" class="gc pm"><rect x="505" y="530.5" width="16" height="5"/><text x="513" y="534.6">PDE3A</text></g>
<g id="c-SLIT2" class="gc pm"><rect x="507" y="540.5" width="16" height="5"/><text x="515" y="544.6">SLIT2</text></g>
<g id="c-BCR" class="gc pm"><rect x="463.5" y="542.5" width="11" height="5"/><text x="469" y="546.6">BCR</text></g>
<g id="c-OCLN" class="gc pm"><rect x="465" y="555.5" width="14" height="5"/><text x="472" y="559.6">OCLN</text></g>
<g id="c-VEGFA" class="gc pm"><rect x="506" y="554.5" width="16" height="5"/><text x="514" y="558.6">VEGFA</text></g>
<g id="c-TACR1" class="gc pm"><rect x="473" y="562.5" width="16" height="5"/><text x="481" y="566.6">TACR1</text></g>
<g id="c-TGFB1" class="gc pm"><rect x="498" y="562.5" width="16" height="5"/><text x="506" y="566.6">TGFB1</text></g>
<g id="c-BDKRB2" class="gc pm"><rect x="486.5" y="569.5" width="19" height="5"/><text x="496" y="573.6">BDKRB2</text></g>
<g id="c-NR4A3" class="gc sm"><rect x="337" y="613.5" width="16" height="5"/><text x="345" y="617.6">NR4A3</text></g>
<g id="c-MYOCD" class="gc sm"><rect x="320" y="619.5" width="16" height="5"/><text x="328" y="623.6">MYOCD</text></g>
<g id="c-ADAMTS1" class="gc sm"><rect x="348" y="619.5" width="22" height="5"/><text x="359" y="623.6">ADAMTS1</text></g>
<g id="c-NF1" class="gc sm"><rect x="312.5" y="626.5" width="11" height="5"/><text x="318" y="630.6">NF1</text></g>
<g id="c-PDGFB" class="gc sm"><rect x="361" y="625.5" width="16" height="5"/><text x="369" y="629.6">PDGFB</text></g>
<g id="c-ADIPOQ" class="gc sm"><rect x="304.5" y="636.5" width="19" height="5"/><text x="314" y="640.6">ADIPOQ</text></g>
<g id="c-XBP1" class="gc sm"><rect x="371" y="635.5" width="14" height="5"/><text x="378" y="639.6">XBP1</text></g>
<g id="c-PRKG1" class="gc sm"><rect x="304" y="647.5" width="16" height="5"/><text x="312" y="651.6">PRKG1</text></g>
<g id="c-SNAI2" class="gc sm"><rect x="370" y="647.5" width="16" height="5"/><text x="378" y="651.6">SNAI2</text></g>
<g id="c-PAK1" class="gc sm"><rect x="308" y="660.5" width="14" height="5"/><text x="315" y="664.6">PAK1</text></g>
<g id="c-MAP3K7" class="gc sm"><rect x="366.5" y="658.5" width="19" height="5"/><text x="376" y="662.6">MAP3K7</text></g>
<g id="c-MDM2" class="gc sm"><rect x="366" y="666.5" width="14" height="5"/><text x="373" y="670.6">MDM2</text></g>
<g id="c-TPM1" class="gc sm"><rect x="310" y="670.5" width="14" height="5"/><text x="317" y="674.6">TPM1</text></g>
<g id="c-FGF9" class="gc sm"><rect x="357" y="675.5" width="14" height="5"/><text x="364" y="679.6">FGF9</text></g>
<g id="c-TKT" class="gc sm"><rect x="322.5" y="677.5" width="11" height="5"/><text x="328" y="681.6">TKT</text></g>
<g id="c-DOCK4" class="gc sm"><rect x="340" y="682.5" width="16" height="5"/><text x="348" y="686.6">DOCK4</text></g>
</g>
<g id="panel-c-mirnas">
<g id="c-miR-145-5p" class="mc"><rect x="121" y="418.5" width="53" height="10" rx="2.5"/><text x="147.5" y="425.7">hsa-miR-145-5p</text></g>
<g id="c-miR-2110" class="mc"><rect x="221" y="449.5" width="52" height="10" rx="2.5"/><text x="247" y="456.7">hsa-miR-2110</text></g>
<g id="c-miR-137-5p" class="mc"><rect x="329" y="451" width="53" height="10" rx="2.5"/><text x="355.5" y="458.2">hsa-miR-137-5p</text></g>
<g id="c-miR-21-5p" class="mc"><rect x="238" y="534" width="53" height="10" rx="2.5"/><text x="264.5" y="541.2">hsa-miR-21-5p</text></g>
<g id="c-miR-16-5p" class="mc"><rect x="374" y="532" width="53" height="10" rx="2.5"/><text x="400.5" y="539.2">hsa-miR-16-5p</text></g>
<g id="c-miR-126-3p" class="mc"><rect x="5" y="565" width="50" height="10" rx="2.5"/><text x="30" y="572.2">hsa-miR-126-3p</text></g>
<g id="c-miR-320a-5p" class="mc"><rect x="330" y="558" width="53" height="10" rx="2.5"/><text x="356.5" y="565.2">hsa-miR-320a-5p</text></g>
<g id="c-miR-106b-5p" class="mc"><rect x="292" y="581" width="53" height="10" rx="2.5"/><text x="318.5" y="588.2">hsa-miR-106b-5p</text></g>
<g id="c-miR-216b-5p" class="mc"><rect x="252" y="598" width="53" height="10" rx="2.5"/><text x="278.5" y="605.2">hsa-miR-216b-5p</text></g>
<g id="c-miR-124-3p" class="mc"><rect x="213" y="614" width="53" height="10" rx="2.5"/><text x="239.5" y="621.2">hsa-miR-124-3p</text></g>
<g id="c-miR-4439" class="mc"><rect x="173" y="629" width="54" height="10" rx="2.5"/><text x="200" y="636.2">hsa-miR-4439</text></g>
<g id="c-miR-33a-5p" class="mc"><rect x="137" y="645" width="52" height="10" rx="2.5"/><text x="163" y="652.2">hsa-miR-33a-5p</text></g>
</g>
<g id="labels">
<text class="p" x="33" y="13">B</text>
<text class="p" x="10" y="355">C</text>
<text class="t" font-size="11" transform="translate(101 17) scale(0.58 1)" textLength="188" lengthAdjust="spacingAndGlyphs">Cellular oxidant detoxification</text>
<text class="t" font-size="10" transform="translate(77 307) scale(0.69 1)" textLength="154" lengthAdjust="spacingAndGlyphs">Response to oxidative stress</text>
<text class="t" font-size="10" transform="translate(382 270) scale(0.7 1)" textLength="193" lengthAdjust="spacingAndGlyphs">Response to reactive oxygen species</text>
<text class="t" font-size="8" transform="translate(238 355.5) scale(0.72 1)" textLength="140" lengthAdjust="spacingAndGlyphs">Regulation of leukocyte adhesion</text>
<text class="t" font-size="8" transform="translate(250 366.5) scale(0.67 1)" textLength="122.5" lengthAdjust="spacingAndGlyphs">to vascular endothelial cell</text>
<text class="t" font-size="8" transform="translate(404 426.5) scale(0.72 1)" textLength="132" lengthAdjust="spacingAndGlyphs">Response to fluid shear stress</text>
<text class="t" font-size="8" transform="translate(437 586) scale(0.714 1)" textLength="154" lengthAdjust="spacingAndGlyphs">Regulation of vascular permeability</text>
<text class="t" font-size="8" transform="translate(118 614) scale(0.744 1)" textLength="48.4" lengthAdjust="spacingAndGlyphs">Coagulation</text>
<text class="t" font-size="7.5" transform="translate(296 698) scale(0.77 1)" textLength="136.4" lengthAdjust="spacingAndGlyphs">Regulation of vascular associated</text>
<text class="t" font-size="7.5" transform="translate(305 708) scale(0.79 1)" textLength="115.2" lengthAdjust="spacingAndGlyphs">smooth muscle cell migration</text>
</g>
</svg>
